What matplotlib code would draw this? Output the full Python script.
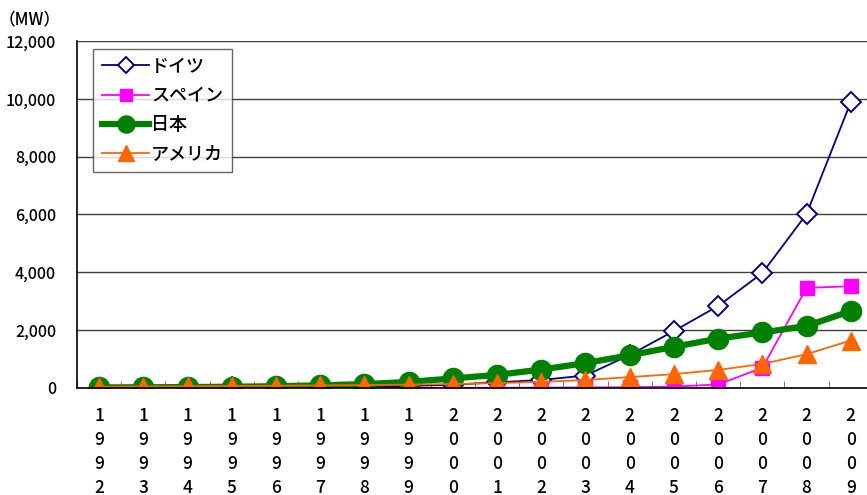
import numpy as np
import matplotlib.pyplot as plt
from matplotlib.ticker import FuncFormatter, FixedLocator

plt.rcParams['font.family'] = ['Noto Sans CJK JP', 'DejaVu Sans']
plt.rcParams['font.weight'] = 'medium'

# Cumulative installed PV capacity (MW)
years = list(range(1992, 2010))
germany = [6, 9, 12, 18, 28, 42, 54, 70, 114, 195, 278, 431, 1140, 1970, 2835, 3976, 6017, 9890]
spain = [0, 0, 1, 2, 2, 3, 4, 5, 6, 8, 12, 20, 25, 50, 120, 700, 3460, 3520]
japan = [19, 24, 31, 43, 60, 91, 133, 209, 330, 453, 637, 860, 1132, 1422, 1708, 1919, 2144, 2660]
usa = [44, 50, 58, 67, 77, 88, 100, 117, 139, 168, 212, 275, 376, 479, 624, 831, 1169, 1642]
labels = ['ドイツ', 'スペイン', '日本', 'アメリカ']

fig = plt.figure(figsize=(8.67, 4.95), dpi=100)
ax = fig.add_axes([0.0888, 0.2162, 0.918, 0.701])

x = np.arange(len(years))
ax.plot(x, germany, color='#000080', lw=1.3, marker='D', ms=10, mfc='white',
        mec='#000080', mew=1.4, label=labels[0])
ax.plot(x, spain, color='#FF00FF', lw=1.3, marker='s', ms=10, mfc='#FF00FF',
        mec='#FF00FF', label=labels[1])
ax.plot(x, japan, color='#008000', lw=4.5, marker='o', ms=14.5, mfc='#008000',
        mec='#008000', label=labels[2])
ax.plot(x, usa, color='#FF6600', lw=1.3, marker='^', ms=13, mfc='#FF6600',
        mec='#FF6600', label=labels[3])

ax.set_xlim(-0.5, len(years) - 0.5)
ax.set_ylim(0, 12000)
ax.set_yticks(np.arange(0, 12001, 2000))
ax.yaxis.set_major_formatter(FuncFormatter(lambda v, p: f'{int(v):,}'))
ax.grid(axis='y', color='#404040', lw=1.0)
ax.set_axisbelow(True)

# one digit per line under each year
ax.set_xticks(x)
ax.set_xticklabels(['\n'.join(str(y)) for y in years], linespacing=1.42)
ax.xaxis.set_minor_locator(FixedLocator(np.arange(-0.5, len(years), 1)))
ax.tick_params(axis='x', which='major', length=0, pad=14, labelsize=12.5)
ax.tick_params(axis='x', which='minor', direction='in', length=5, color='#606060')
ax.tick_params(axis='y', length=0, pad=15, labelsize=11.5)

for side in ['top', 'right']:
    ax.spines[side].set_visible(False)
ax.spines['left'].set_color('black')
ax.spines['bottom'].set_color('black')
ax.spines['left'].set_linewidth(1.2)
ax.spines['bottom'].set_linewidth(1.2)

fig.text(-0.002, 0.96, '（MW）', fontsize=12, va='center', ha='left')

leg = ax.legend(loc='upper left', bbox_to_anchor=(0.0205, 0.978), fontsize=13,
                frameon=True, fancybox=False, edgecolor='#404040',
                markerscale=0.85, borderpad=0.5, labelspacing=0.62,
                handlelength=2.6, handletextpad=0.1, borderaxespad=0)
leg.get_frame().set_linewidth(1.0)

fig.savefig('out.png', dpi=100)
